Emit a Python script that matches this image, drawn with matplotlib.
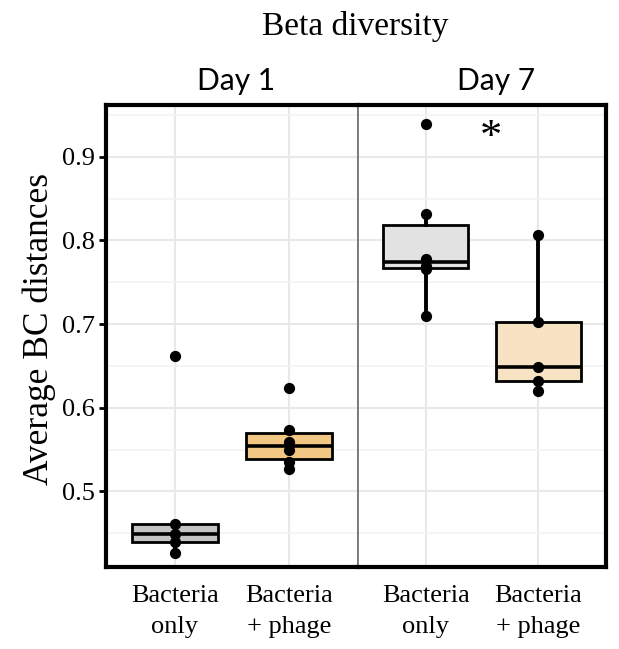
import matplotlib
matplotlib.use("Agg")
import matplotlib.pyplot as plt
from matplotlib.ticker import MultipleLocator

# données
groupes = ["Bacteria\nonly", "Bacteria\n+ phage"]
jours = ["Day 1", "Day 7"]
j1_bacteries = [0.426, 0.4395, 0.4495, 0.461, 0.662]
j1_phage = [0.527, 0.535, 0.549, 0.559, 0.573, 0.623]
j7_bacteries = [0.7095, 0.766, 0.770, 0.778, 0.832, 0.939]
j7_phage = [0.620, 0.632, 0.649, 0.703, 0.807]
valeurs = [[j1_bacteries, j1_phage], [j7_bacteries, j7_phage]]
couleurs = [["#c4c4c4", "#f2c784"], ["#e2e2e2", "#f7e2c4"]]

serif = "Liberation Serif"

fig = plt.figure(figsize=(6.19, 6.49), dpi=100)
ax1 = fig.add_axes([106/619, 82/649, 252/619, 462/649])
ax2 = fig.add_axes([358/619, 82/649, 248/619, 462/649], sharey=ax1)

for i, ax in enumerate([ax1, ax2]):
    data = valeurs[i]
    bp = ax.boxplot(data, positions=[1, 2], widths=0.75, patch_artist=True,
                    showfliers=False, showcaps=False,
                    boxprops=dict(linewidth=2.0, edgecolor="black"),
                    medianprops=dict(color="black", linewidth=2.6),
                    whiskerprops=dict(color="black", linewidth=2.8),
                    zorder=3)
    for patch, c in zip(bp["boxes"], couleurs[i]):
        patch.set_facecolor(c)
    for k, d in enumerate(data):
        ax.scatter([k + 1] * len(d), d, s=50, color="black", zorder=4)

    ax.set_xlim(0.4, 2.6)
    ax.set_ylim(0.4095, 0.962)
    ax.yaxis.set_major_locator(MultipleLocator(0.1))
    ax.yaxis.set_minor_locator(MultipleLocator(0.05))
    ax.grid(True, which="major", color="#e8e8e8", linewidth=1.5, zorder=0)
    ax.grid(True, which="minor", axis="y", color="#f3f3f3", linewidth=1.1, zorder=0)
    ax.set_axisbelow(True)
    ax.set_xticks([1, 2])
    ax.set_xticklabels(groupes, family=serif, fontsize=19, linespacing=1.55)
    ax.tick_params(axis="x", length=0, pad=13)
    for s in ax.spines.values():
        s.set_linewidth(3)
        s.set_color("black")

ax1.spines["right"].set_color("#777777")
ax1.spines["right"].set_linewidth(1.3)
ax2.spines["left"].set_color("#777777")
ax2.spines["left"].set_linewidth(1.3)

ax1.tick_params(axis="y", which="major", length=5, width=2, labelsize=19, pad=3)
ax1.tick_params(axis="y", which="minor", length=0)
for t in ax1.get_yticklabels():
    t.set_family(serif)
ax2.tick_params(axis="y", which="both", length=0, labelleft=False)

ax1.set_ylabel("Average BC distances", family=serif, fontsize=25.5)
ax1.yaxis.set_label_coords(-0.20, 0.515)

# astérisque de significativité
ax2.text(1.58, 0.922, "*", family=serif, fontsize=32, ha="center", va="center")

fig.text(355/619, 1 - 26/649, "Beta diversity", family=serif, fontsize=24,
         ha="center", va="center")
fig.text(236/619, 1 - 81/649, jours[0], family="Lato", fontsize=21.5,
         ha="center", va="center")
fig.text(496/619, 1 - 81/649, jours[1], family="Lato", fontsize=21.5,
         ha="center", va="center")

fig.savefig("out.png", dpi=100)
